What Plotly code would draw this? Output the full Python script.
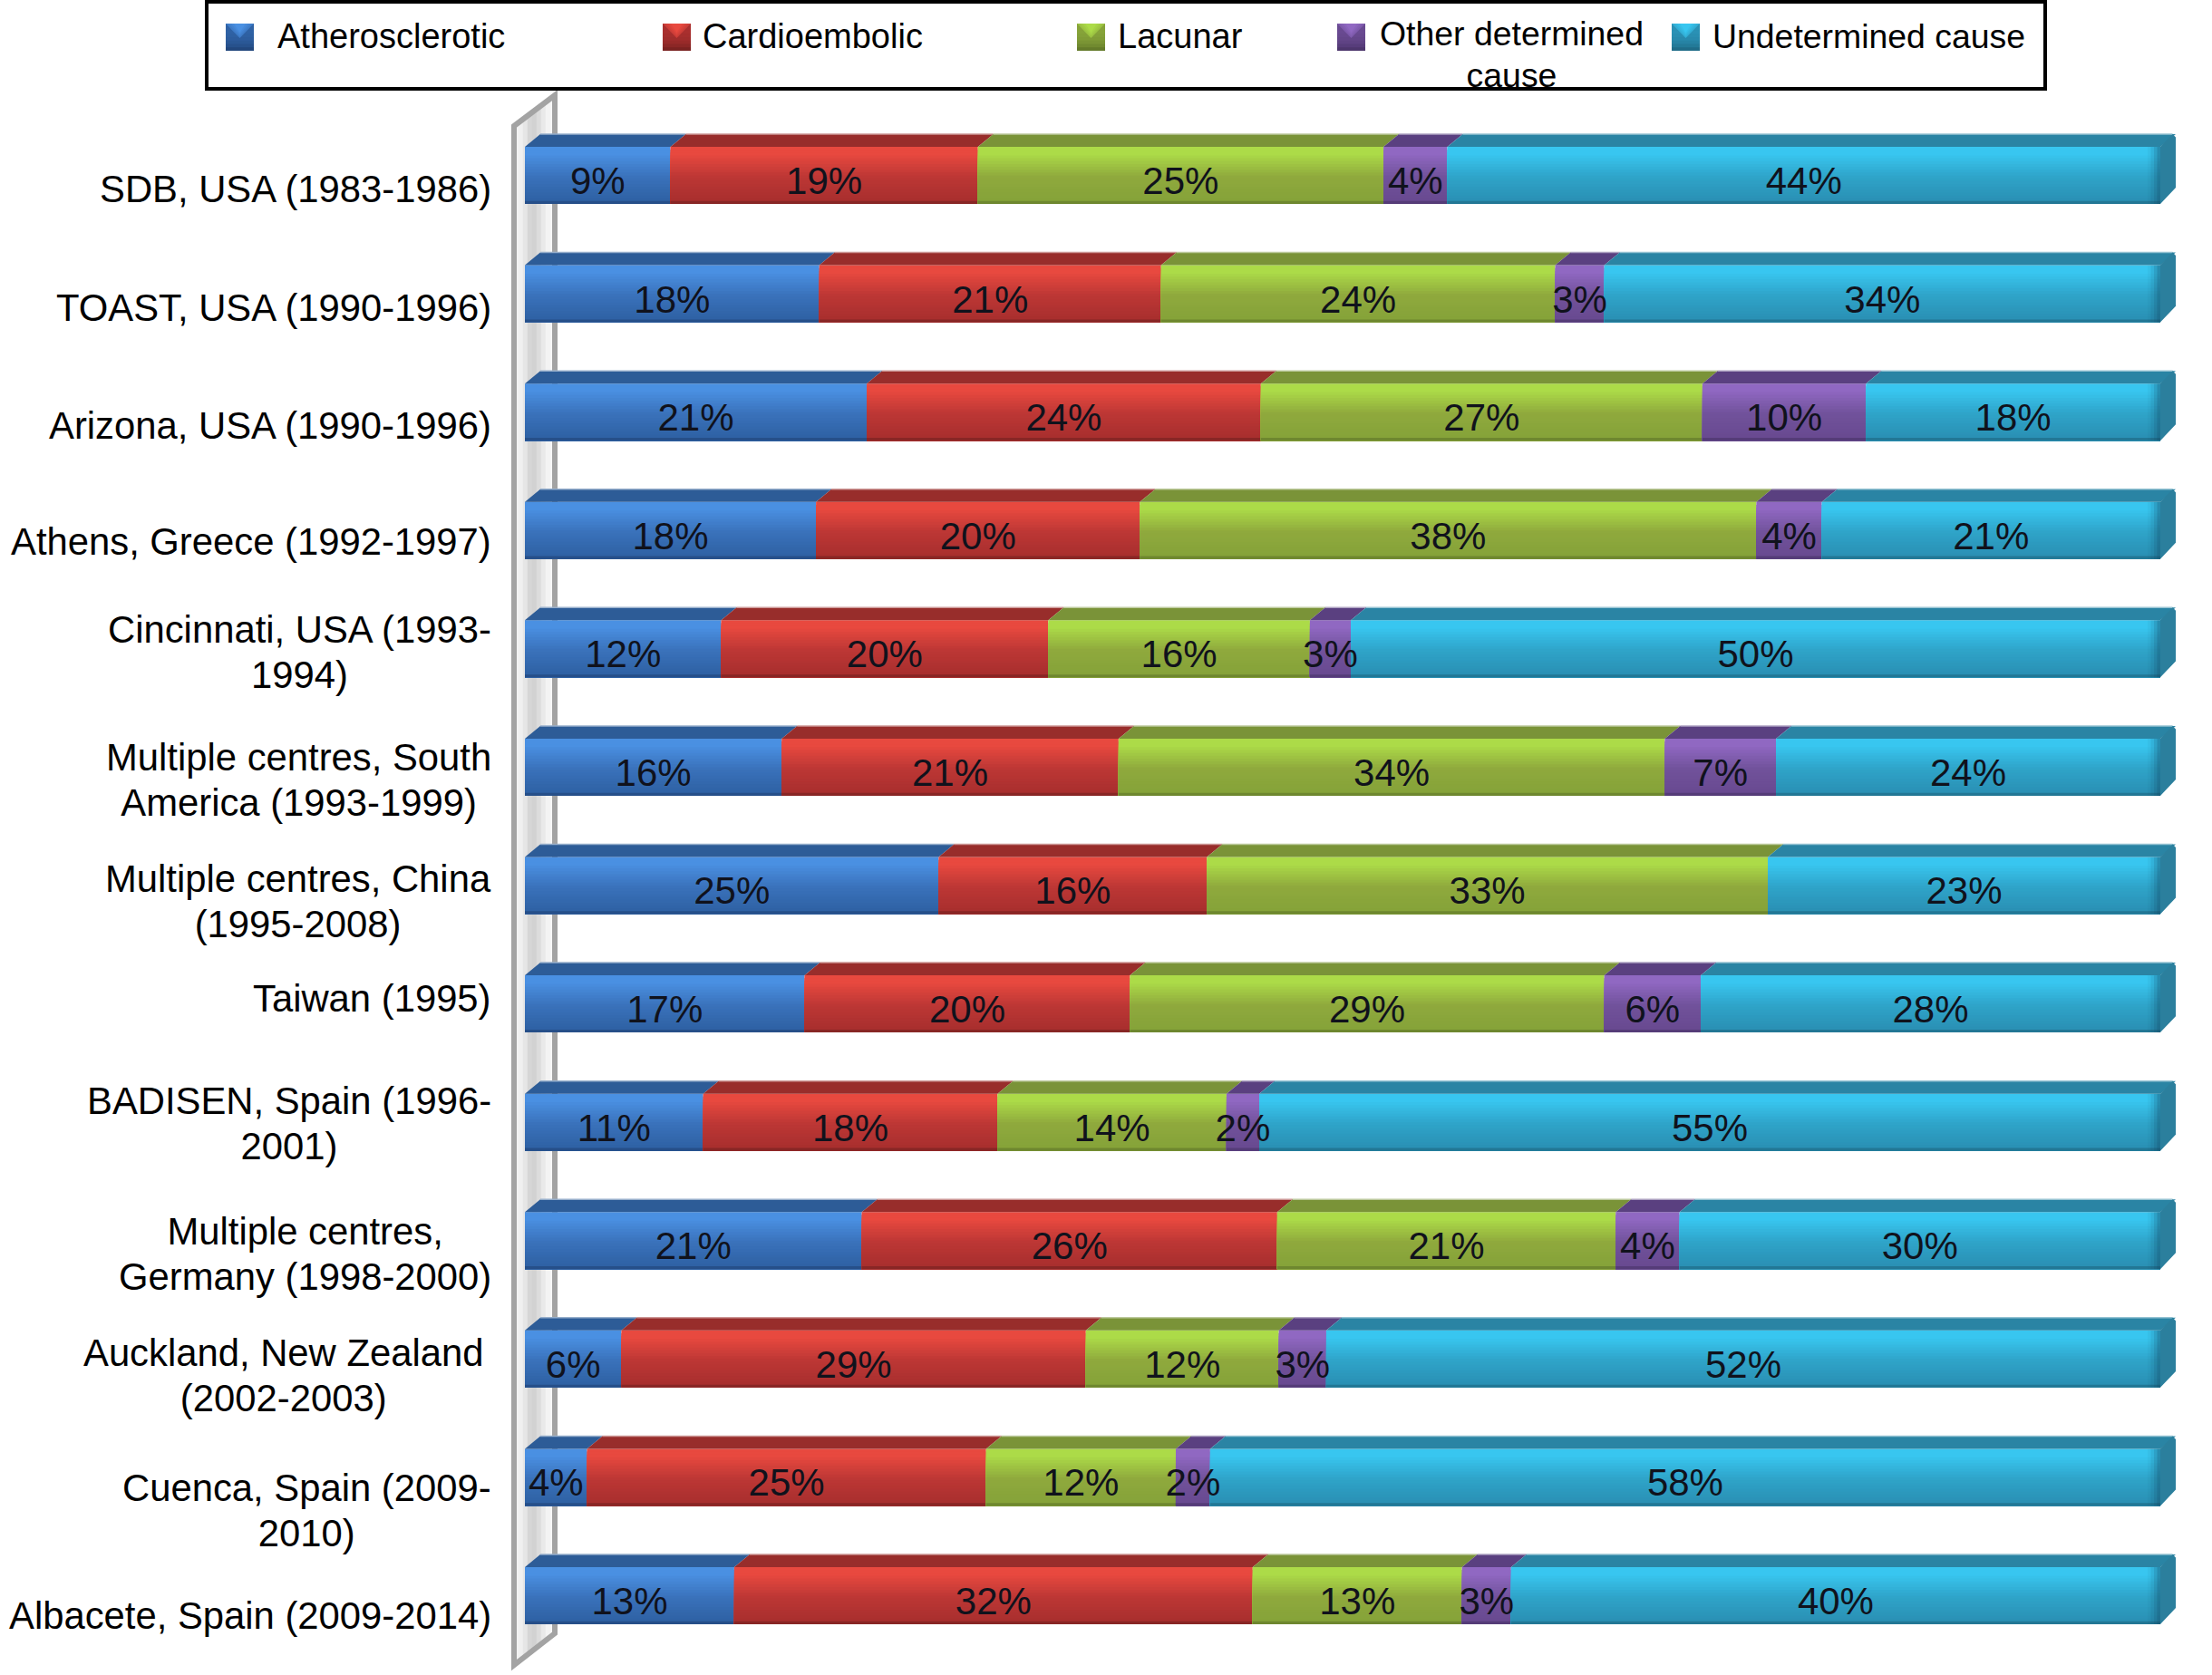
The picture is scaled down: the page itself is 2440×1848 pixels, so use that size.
import plotly.graph_objects as go

W, H = 2440, 1848

CATEGORIES = [
    "SDB, USA (1983-1986)", "TOAST, USA (1990-1996)", "Arizona, USA (1990-1996)",
    "Athens, Greece (1992-1997)", "Cincinnati, USA (1993-<br>1994)",
    "Multiple centres, South<br>America (1993-1999)", "Multiple centres, China<br>(1995-2008)",
    "Taiwan (1995)", "BADISEN, Spain (1996-<br>2001)", "Multiple centres,<br>Germany (1998-2000)",
    "Auckland, New Zealand<br>(2002-2003)", "Cuenca, Spain (2009-<br>2010)", "Albacete, Spain (2009-2014)",
]
SERIES = ["Atherosclerotic", "Cardioembolic", "Lacunar", "Other determined<br>cause", "Undetermined cause"]

ATHEROSCLEROTIC = [8.9, 18.0, 20.9, 17.8, 12.0, 15.7, 25.3, 17.1, 10.9, 20.6, 5.9, 3.8, 12.8]
CARDIOEMBOLIC = [18.8, 20.9, 24.1, 19.8, 20.0, 20.6, 16.4, 19.9, 18.0, 25.4, 28.4, 24.4, 31.7]
LACUNAR = [24.8, 24.1, 27.0, 37.7, 16.0, 33.4, 34.3, 29.0, 14.0, 20.7, 11.8, 11.6, 12.8]
OTHER = [3.9, 3.0, 10.0, 4.0, 2.5, 6.8, 0.0, 5.9, 2.0, 3.9, 2.9, 2.1, 3.0]
UNDETERMINED = [43.6, 34.0, 18.0, 20.7, 49.5, 23.5, 24.0, 28.1, 55.1, 29.4, 51.0, 58.1, 39.7]

ATHERO_LABELS = ["9%", "18%", "21%", "18%", "12%", "16%", "25%", "17%", "11%", "21%", "6%", "4%", "13%"]
CARDIO_LABELS = ["19%", "21%", "24%", "20%", "20%", "21%", "16%", "20%", "18%", "26%", "29%", "25%", "32%"]
LACUNAR_LABELS = ["25%", "24%", "27%", "38%", "16%", "34%", "33%", "29%", "14%", "21%", "12%", "12%", "13%"]
OTHER_LABELS = ["4%", "3%", "10%", "4%", "3%", "7%", "", "6%", "2%", "4%", "3%", "2%", "3%"]
UNDET_LABELS = ["44%", "34%", "18%", "21%", "50%", "24%", "23%", "28%", "55%", "30%", "52%", "58%", "40%"]

VALUES = [ATHEROSCLEROTIC, CARDIOEMBOLIC, LACUNAR, OTHER, UNDETERMINED]
LABELS = [ATHERO_LABELS, CARDIO_LABELS, LACUNAR_LABELS, OTHER_LABELS, UNDET_LABELS]
ROWS = list(range(len(CATEGORIES)))

# Styles: (bright, mid, low, bottom-edge, top-face)
PALETTE = [
    ("#4a90e2", "#3a72bb", "#2f62a5", "#1d3c6c", "#2d5c97"),
    ("#e8493f", "#bd3735", "#a92f2e", "#661c1c", "#982d2b"),
    ("#acdb48", "#8fa93d", "#86a339", "#566a24", "#7a9338"),
    ("#9068c2", "#71529b", "#694a91", "#412d5e", "#5a4080"),
    ("#38c6f0", "#2fa4c9", "#2a91b5", "#1a5c74", "#2a84a4"),
]
LABEL_DY = [15, 15, 15, 12, 4, 14, 18, -6, 1, 15, 18, 37, 22]
LABEL_DX = [0, 0, 0, 0, 0, 0, 0, 0, 0, 0, -9, 0, 0]

# Geometry in page pixels
X0_PX, X100_PX = 579, 2383
ROW0_PX, PITCH_PX = 193.5, 130.58
FACE_PX, DEPTH_Y_PX, DEPTH_X_PX = 63, 14, 17
px_per_x = (X100_PX - X0_PX) / 100
face = FACE_PX / PITCH_PX
dy = DEPTH_Y_PX / PITCH_PX
dx = DEPTH_X_PX / px_per_x


def hex2rgb(c):
    return [int(c[i:i + 2], 16) for i in (1, 3, 5)]


def mix(a, b, t):
    ra, rb = hex2rgb(a), hex2rgb(b)
    return "rgb(%d,%d,%d)" % tuple(round(p + (q - p) * t) for p, q in zip(ra, rb))


def sized(text, size):
    return "<br>".join(f'<span style="font-size:{size}px">{line}</span>' for line in text.split("<br>"))


def gradient(pal):
    bright, mid, low, edge, _ = pal
    bands = []
    n = 20
    for k in range(n):
        f = k / n
        if f < 0.1:
            c = mix(bright, bright, 0)
        elif f < 0.5:
            c = mix(bright, mid, (f - 0.1) / 0.4)
        elif f < 0.9:
            c = mix(mid, low, (f - 0.5) / 0.4)
        else:
            c = mix(low, edge, (f - 0.9) / 0.1)
        bands.append((f, c))
    return bands


fig = go.Figure()

# front faces: stacked through explicit bases, one bar trace per gradient band
bases = []
running = [0.0] * len(ROWS)
for vals in VALUES:
    bases.append(list(running))
    running = [r + v for r, v in zip(running, vals)]

for s, vals in enumerate(VALUES):
    for f, colour in gradient(PALETTE[s]):
        fig.add_trace(go.Bar(
            y=ROWS, x=vals, base=bases[s], orientation="h",
            width=face * (1 - f), offset=-face / 2 + face * f,
            marker=dict(color=colour, line=dict(width=0)),
            hoverinfo="skip", showlegend=False,
        ))

# top faces of the 3-D bars, with their pale back edge
for s, vals in enumerate(VALUES):
    xs, ys, ex, ey = [], [], [], []
    for r in ROWS:
        a, b = bases[s][r], bases[s][r] + vals[r]
        if vals[r] <= 0:
            continue
        t = r - face / 2
        xs += [a, b, b + dx, a + dx, a, None]
        ys += [t, t, t - dy, t - dy, t, None]
        ex += [a + dx, b + dx * (0.8 if s == 4 else 1), None]
        ey += [t - dy, t - dy, None]
    fig.add_trace(go.Scatter(x=xs, y=ys, mode="lines", fill="toself", fillcolor=PALETTE[s][4],
                             line=dict(width=0, color=PALETTE[s][4]), hoverinfo="skip", showlegend=False))
    fig.add_trace(go.Scatter(x=ex, y=ey, mode="lines", line=dict(width=1.5, color=mix(PALETTE[s][4], "#ffffff", 0.5)),
                             hoverinfo="skip", showlegend=False))

# right end caps and the bevel of the front face
corner_x, corner_y = 0.2 * dx, 0.25 * dy
xs, ys = [], []
for r in ROWS:
    t, b = r - face / 2, r + face / 2
    xs += [100, 100 + dx - corner_x, 100 + dx, 100 + dx, 100, 100, None]
    ys += [t, t - dy, t - dy + corner_y, b - dy - 0.03, b, t, None]
fig.add_trace(go.Scatter(x=xs, y=ys, mode="lines", fill="toself", fillcolor="#2b7f9d",
                         line=dict(width=0, color="#2b7f9d"), hoverinfo="skip", showlegend=False))
bevel = 14 / px_per_x
for k, alpha in enumerate([0.05, 0.1, 0.15, 0.22]):
    left = 100 - bevel * (1 - k / 4)
    fig.add_trace(go.Bar(
        y=ROWS, x=[bevel * (1 - k / 4)] * len(ROWS), base=[left] * len(ROWS), orientation="h",
        width=face, offset=-face / 2,
        marker=dict(color=f"rgba(20,70,95,{alpha})", line=dict(width=0)),
        hoverinfo="skip", showlegend=False,
    ))

# percentage labels
for s, vals in enumerate(VALUES):
    fig.add_trace(go.Scatter(
        x=[b + v / 2 for b, v in zip(bases[s], vals)],
        y=[r + 10 / PITCH_PX for r in ROWS],
        text=LABELS[s], mode="text", textposition="middle center",
        textfont=dict(family="Liberation Sans", size=42, color="#10121c"),
        hoverinfo="skip", showlegend=False,
    ))


def px(x):
    return x / W


def py(y):
    return 1 - y / H


shapes = []


def poly(points, fill, line=None, lw=0, layer="below"):
    path = "M " + " L ".join(f"{px(x):.5f},{py(y):.5f}" for x, y in points) + " Z"
    shapes.append(dict(type="path", path=path, xref="paper", yref="paper", fillcolor=fill,
                       line=dict(color=line or fill, width=lw), layer=layer))


# back wall
WALL_L, WALL_R = 567, 612
wall_cols = ["#f2f2f2", "#f0f0f0", "#e6e6e6", "#d6d6d6", "#d2d2d2", "#dcdcdc", "#e9e9e9", "#f3f3f3", "#f8f8f8"]
n = len(wall_cols)
for k, c in enumerate(wall_cols):
    x1 = WALL_L + (WALL_R - WALL_L) * k / n
    x2 = WALL_L + (WALL_R - WALL_L) * (k + 1) / n
    top = lambda x: 139 - (x - WALL_L) * 34 / 45
    bot = lambda x: 1837 - (x - WALL_L) * 35 / 45
    poly([(x1, top(x1)), (x2, top(x2)), (x2, bot(x2)), (x1, bot(x1))], c, lw=0.5)
poly([(WALL_L, 139), (WALL_R, 105), (WALL_R, 1802), (WALL_L, 1837)], "rgba(0,0,0,0)", "#a3a3a3", 6)

# legend box
poly([(228, 2), (2256, 2), (2256, 98), (228, 98)], "#ffffff", "#000000", 4)

annotations = []
SWATCH_X = [249, 731, 1188, 1475, 1844]
LEG_X = [304, 773, 1231, 1667, 1887]
LEG_SIZE = [38, 38, 38, 37.4, 37.4]
for s, name in enumerate(SERIES):
    x, w, y0, h = SWATCH_X[s], 31, 26, 30
    bright, mid, low, edge, _ = PALETTE[s]
    m = 8
    for k in range(m):
        yy = y0 + h * k / m
        poly([(x, yy), (x + w, yy), (x + w, y0 + h), (x, y0 + h)], mix(low, edge, (k / (m - 1)) ** 3 * 0.7) if k > 2 else low, layer="above")
    for k in range(4):
        inset = k * 3
        poly([(x + inset, y0), (x + w - inset, y0), (x + w / 2, y0 + 16 - k * 2)],
             mix(low, bright, 0.55 + 0.15 * k), layer="above")
    multi = "<br>" in name
    annotations.append(dict(
        text=sized(name, LEG_SIZE[s]), xref="paper", yref="paper",
        x=px(LEG_X[s]), y=py(60 if multi else 40),
        xanchor="center" if multi else "left", yanchor="middle", align="center", showarrow=False,
        font=dict(family="Liberation Sans", size=35 if multi else 38, color="#000000"),
    ))

# category labels
for r, name in zip(ROWS, CATEGORIES):
    annotations.append(dict(
        text=sized(name, 41.8), xref="paper", yref="y", x=px(544 + LABEL_DX[r]), y=r, yshift=-LABEL_DY[r],
        xanchor="right", yanchor="middle", align="center", showarrow=False,
        font=dict(family="Liberation Sans", size=38.5, color="#000000"),
    ))

fig.update_layout(
    width=W, height=H, margin=dict(l=0, r=0, t=0, b=0),
    paper_bgcolor="#ffffff", plot_bgcolor="rgba(0,0,0,0)",
    barmode="overlay", showlegend=False,
    shapes=shapes, annotations=annotations,
    xaxis=dict(domain=[X0_PX / W, 1], range=[0, (W - X0_PX) / px_per_x], visible=False, fixedrange=True),
    yaxis=dict(domain=[0, 1], range=[(H - ROW0_PX) / PITCH_PX, -ROW0_PX / PITCH_PX], visible=False, fixedrange=True),
)

fig.write_html("out.html", post_script="document.body.style.margin='0';", config={"displayModeBar": False})
